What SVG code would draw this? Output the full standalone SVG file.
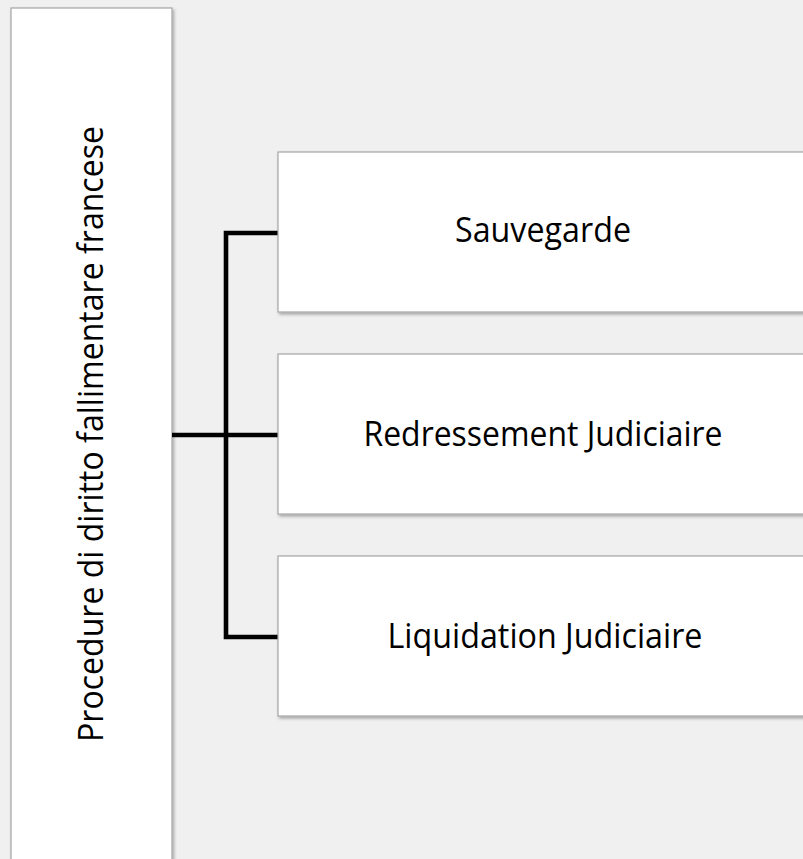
<svg xmlns="http://www.w3.org/2000/svg" width="803" height="859" viewBox="0 0 803 859">
<style>
.box{fill:#ffffff;stroke:#a6a6a6;stroke-width:1.2;filter:url(#sh)}
.lbl{font-family:"Open Sans","Liberation Sans",sans-serif;font-size:35px;fill:#000000;text-anchor:middle}
.conn{fill:none;stroke:#000000;stroke-width:4.6;stroke-linejoin:miter;stroke-linecap:butt}
</style>
<defs>
<filter id="sh" x="-10%" y="-10%" width="130%" height="130%">
<feDropShadow dx="1.5" dy="2" stdDeviation="1.5" flood-color="#000000" flood-opacity="0.3"/>
</filter>
</defs>
<rect x="0" y="0" width="803" height="859" fill="#f0f0f0"/>
<g id="root">
<rect class="box" x="11" y="8" width="161" height="880"/>
<text class="lbl" transform="translate(103,434) rotate(-90)" textLength="616" lengthAdjust="spacingAndGlyphs">Procedure di diritto fallimentare francese</text>
</g>
<g id="connectors">
<path class="conn" d="M172,435 H278"/>
<path class="conn" d="M278,233 H226 V637 H278"/>
</g>
<g id="sauvegarde">
<rect class="box" x="278" y="152" width="540" height="160"/>
<text class="lbl" x="543" y="242" textLength="176" lengthAdjust="spacingAndGlyphs">Sauvegarde</text>
</g>
<g id="redressement">
<rect class="box" x="278" y="354" width="540" height="160"/>
<text class="lbl" x="543" y="446" textLength="359" lengthAdjust="spacingAndGlyphs">Redressement Judiciaire</text>
</g>
<g id="liquidation">
<rect class="box" x="278" y="556" width="540" height="160"/>
<text class="lbl" x="545" y="648" textLength="315" lengthAdjust="spacingAndGlyphs">Liquidation Judiciaire</text>
</g>
</svg>
